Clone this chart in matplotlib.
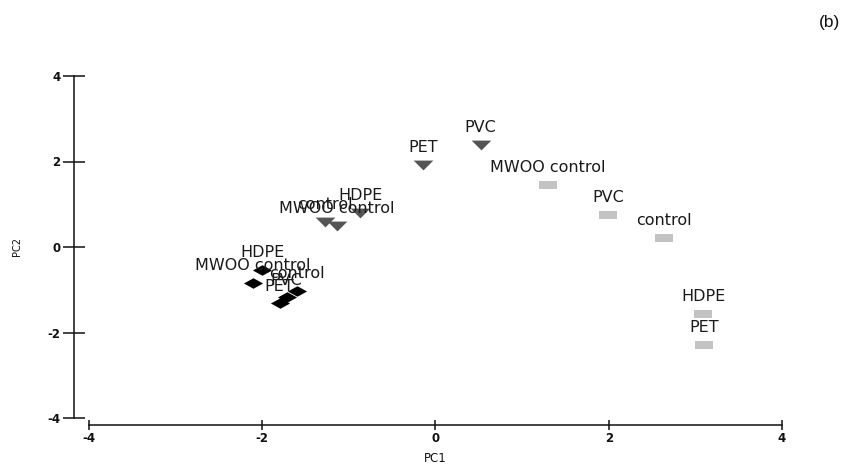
import matplotlib
matplotlib.use("Agg")
import matplotlib.pyplot as plt
from matplotlib.path import Path

# PCA scores (PC1, PC2) for three sample groups
labels_a = ["HDPE", "MWOO control", "control", "PET", "PVC"]
pc1_a = [-2.00, -2.11, -1.60, -1.80, -1.72]
pc2_a = [-0.54, -0.84, -1.03, -1.32, -1.18]

labels_b = ["PVC", "PET", "HDPE", "control", "MWOO control"]
pc1_b = [0.52, -0.14, -0.87, -1.28, -1.14]
pc2_b = [2.39, 1.92, 0.80, 0.59, 0.49]

labels_c = ["MWOO control", "PVC", "control", "HDPE", "PET"]
pc1_c = [1.30, 1.99, 2.64, 3.09, 3.10]
pc2_c = [1.45, 0.76, 0.21, -1.56, -2.29]

ticks = [-4, -2, 0, 2, 4]

# wide, flat marker shapes
diamond = Path([(-1, 0), (0, 0.55), (1, 0), (0, -0.55), (-1, 0)])
tri_down = Path([(-1, 0.5), (1, 0.5), (0, -0.5), (-1, 0.5)])
bar = Path([(-1, -0.45), (1, -0.45), (1, 0.45), (-1, 0.45), (-1, -0.45)])

fig = plt.figure(figsize=(8.53, 4.72), dpi=100)
ax = fig.add_axes([89 / 853, 54 / 472, 693 / 853, 342 / 472])

groups = [
    (pc1_a, pc2_a, labels_a, diamond, "#000000", 190),
    (pc1_b, pc2_b, labels_b, tri_down, "#555555", 200),
    (pc1_c, pc2_c, labels_c, bar, "#c3c3c3", 170),
]
for xs, ys, labs, mk, col, size in groups:
    ax.scatter(xs, ys, marker=mk, s=size, color=col, linewidths=0, zorder=3)
    for x, y, t in zip(xs, ys, labs):
        ax.annotate(t, (x, y), xytext=(0, 12.5), textcoords="offset points",
                    ha="center", va="center", fontsize=11.5, color="#1a1a1a",
                    zorder=4)

ax.set_xlim(-4, 4)
ax.set_ylim(-4, 4)
ax.set_xticks(ticks)
ax.set_yticks(ticks)
ax.set_xticklabels([str(t) for t in ticks])
ax.set_yticklabels([str(t) for t in ticks])

for side in ("top", "right"):
    ax.spines[side].set_visible(False)
ax.spines["left"].set_position(("outward", 10.8))
ax.spines["bottom"].set_position(("outward", 5.0))
for side in ("left", "bottom"):
    ax.spines[side].set_linewidth(1.1)
    ax.spines[side].set_color("#111111")

ax.tick_params(axis="y", direction="inout", length=16.5, width=1.1,
               color="#111111", pad=1.5, labelsize=8.5, labelcolor="#111111")
ax.tick_params(axis="x", direction="inout", length=7.5, width=1.1,
               color="#111111", pad=1.5, labelsize=8.5, labelcolor="#111111")
for lab in ax.get_xticklabels() + ax.get_yticklabels():
    lab.set_fontweight("bold")

ax.set_xlabel("PC1", fontsize=8.5, color="#111111", labelpad=5)
ax.set_ylabel("PC2", fontsize=7, color="#111111", labelpad=18)

fig.text(0.973, 0.953, "(b)", fontsize=12.5, family="Liberation Sans",
         ha="center", va="center", color="#111111")

fig.savefig("out.png", dpi=100, facecolor="white")
